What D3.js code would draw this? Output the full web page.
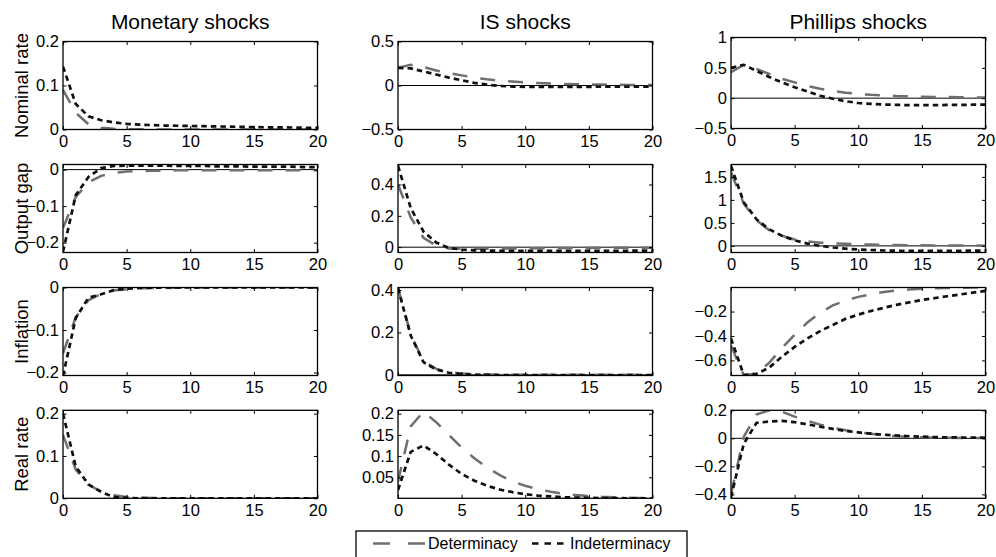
<!DOCTYPE html>
<html>
<head>
<meta charset="utf-8">
<script src="https://cdn.jsdelivr.net/npm/d3@7"></script>
<style>
    body { margin: 0; background: #fff; }
</style>
</head>
<body>
<div id="chart"></div>
<script>
const width = 996;
const height = 557;
const fontFamily = "'Liberation Sans', Arial, Helvetica, sans-serif";

const periods = d3.range(0, 21);
const shockTitles = ["Monetary shocks", "IS shocks", "Phillips shocks"];
const variableLabels = ["Nominal rate", "Output gap", "Inflation", "Real rate"];
const seriesNames = ["Determinacy", "Indeterminacy"];

// Nominal rate
const nomMonDet = [0.09, 0.038, 0.012, 0.004, 0.0015, 0.0008, 0.0005, 0.0003, 0.0002, 0.0001, 0, 0, 0, 0, 0, 0, 0, 0, 0, 0, 0];
const nomMonInd = [0.143, 0.058, 0.03, 0.021, 0.016, 0.013, 0.011, 0.01, 0.009, 0.0085, 0.008, 0.0075, 0.007, 0.0065, 0.006, 0.0055, 0.005, 0.005, 0.0045, 0.004, 0.004];
const nomIsDet = [0.2, 0.235, 0.21, 0.17, 0.14, 0.115, 0.09, 0.07, 0.055, 0.045, 0.035, 0.028, 0.022, 0.018, 0.015, 0.012, 0.01, 0.008, 0.007, 0.006, 0.005];
const nomIsInd = [0.2, 0.195, 0.16, 0.125, 0.09, 0.06, 0.03, 0.01, -0.005, -0.012, -0.015, -0.016, -0.016, -0.016, -0.015, -0.015, -0.014, -0.013, -0.013, -0.012, -0.012];
const nomPhDet = [0.43, 0.55, 0.48, 0.4, 0.32, 0.26, 0.2, 0.155, 0.12, 0.09, 0.07, 0.055, 0.045, 0.035, 0.03, 0.025, 0.02, 0.018, 0.015, 0.012, 0.01];
const nomPhInd = [0.5, 0.55, 0.45, 0.35, 0.26, 0.18, 0.11, 0.04, -0.01, -0.05, -0.08, -0.095, -0.105, -0.11, -0.115, -0.115, -0.115, -0.112, -0.11, -0.108, -0.105];

// Output gap
const gapMonDet = [-0.16, -0.075, -0.035, -0.017, -0.009, -0.005, -0.004, -0.003, -0.003, -0.002, -0.002, -0.002, -0.002, -0.002, -0.002, -0.002, -0.002, -0.002, -0.002, -0.002, -0.002];
const gapMonInd = [-0.225, -0.07, -0.02, 0.004, 0.01, 0.011, 0.011, 0.011, 0.011, 0.01, 0.01, 0.01, 0.009, 0.009, 0.009, 0.008, 0.008, 0.008, 0.008, 0.007, 0.007];
const gapIsDet = [0.4, 0.19, 0.06, 0.01, -0.008, -0.01, -0.01, -0.01, -0.009, -0.008, -0.008, -0.007, -0.006, -0.006, -0.005, -0.005, -0.004, -0.004, -0.004, -0.003, -0.003];
const gapIsInd = [0.52, 0.25, 0.1, 0.03, -0.005, -0.015, -0.02, -0.022, -0.023, -0.024, -0.024, -0.024, -0.024, -0.024, -0.024, -0.023, -0.023, -0.023, -0.023, -0.022, -0.022];
const gapPhDet = [1.6, 0.92, 0.56, 0.34, 0.22, 0.14, 0.1, 0.07, 0.055, 0.045, 0.035, 0.028, 0.022, 0.018, 0.015, 0.012, 0.01, 0.008, 0.007, 0.006, 0.005];
const gapPhInd = [1.74, 0.95, 0.58, 0.36, 0.22, 0.12, 0.05, 0.0, -0.035, -0.06, -0.08, -0.09, -0.1, -0.105, -0.108, -0.11, -0.11, -0.108, -0.106, -0.104, -0.1];

// Inflation
const infMonDet = [-0.155, -0.07, -0.03, -0.015, -0.007, -0.004, -0.002, -0.001, -0.001, -0.0005, 0, 0, 0, 0, 0, 0, 0, 0, 0, 0, 0];
const infMonInd = [-0.208, -0.072, -0.024, -0.016, -0.006, -0.003, -0.001, -0.0005, 0, 0, 0, 0, 0, 0, 0, 0, 0, 0, 0, 0, 0];
const infIsDet = [0.41, 0.19, 0.065, 0.028, 0.013, 0.006, 0.003, 0.002, 0.001, 0.001, 0, 0, 0, 0, 0, 0, 0, 0, 0, 0, 0];
const infIsInd = [0.41, 0.185, 0.06, 0.025, 0.01, 0.004, 0.001, 0, -0.001, -0.001, -0.001, -0.001, -0.001, -0.001, -0.001, -0.001, -0.001, -0.001, -0.001, -0.001, -0.001];
const infPhDet = [-0.48, -0.72, -0.71, -0.62, -0.5, -0.39, -0.29, -0.21, -0.15, -0.11, -0.08, -0.058, -0.04, -0.028, -0.02, -0.014, -0.01, -0.007, -0.005, -0.004, -0.003];
const infPhInd = [-0.42, -0.72, -0.71, -0.66, -0.57, -0.49, -0.42, -0.36, -0.31, -0.26, -0.225, -0.195, -0.17, -0.145, -0.125, -0.105, -0.09, -0.075, -0.06, -0.045, -0.03];

// Real rate
const realMonDet = [0.15, 0.068, 0.032, 0.016, 0.007, 0.003, 0.002, 0.001, 0, 0, 0, 0, 0, 0, 0, 0, 0, 0, 0, 0, 0];
const realMonInd = [0.2, 0.075, 0.033, 0.015, 0.003, 0.001, 0, 0, 0, 0, 0, 0, 0, 0, 0, 0, 0, 0, 0, 0, 0];
const realIsDet = [0.04, 0.17, 0.205, 0.18, 0.15, 0.12, 0.095, 0.073, 0.055, 0.04, 0.03, 0.022, 0.016, 0.011, 0.008, 0.006, 0.004, 0.003, 0.002, 0.0015, 0.001];
const realIsInd = [0.02, 0.11, 0.125, 0.105, 0.08, 0.058, 0.042, 0.03, 0.021, 0.015, 0.01, 0.007, 0.005, 0.003, 0.002, 0.0015, 0.001, 0.001, 0.0005, 0.0005, 0.0005];
const realPhDet = [-0.4, 0.01, 0.17, 0.2, 0.19, 0.155, 0.125, 0.098, 0.076, 0.058, 0.043, 0.032, 0.022, 0.015, 0.01, 0.007, 0.005, 0.004, 0.003, 0.002, 0.002];
const realPhInd = [-0.42, -0.04, 0.11, 0.12, 0.125, 0.115, 0.1, 0.083, 0.067, 0.053, 0.042, 0.033, 0.026, 0.02, 0.015, 0.012, 0.009, 0.007, 0.006, 0.005, 0.004];

// y limits and tick values, row by row
const yDomains = [
    [[0, 0.2], [-0.5, 0.5], [-0.5, 1]],
    [[-0.227, 0.014], [-0.034, 0.528], [-0.144, 1.77]],
    [[-0.207, 0], [-0.003, 0.412], [-0.724, -0.003]],
    [[0, 0.208], [0.0005, 0.208], [-0.428, 0.2]]
];
const yTickValues = [
    [[0, 0.1, 0.2], [-0.5, 0, 0.5], [-0.5, 0, 0.5, 1]],
    [[-0.2, -0.1, 0], [0, 0.2, 0.4], [0, 0.5, 1, 1.5]],
    [[-0.2, -0.1, 0], [0, 0.2, 0.4], [-0.6, -0.4, -0.2]],
    [[0, 0.1, 0.2], [0.05, 0.1, 0.15, 0.2], [-0.4, -0.2, 0, 0.2]]
];
const xTickValues = [0, 5, 10, 15, 20];

const seriesGrid = [
    [[nomMonDet, nomMonInd], [nomIsDet, nomIsInd], [nomPhDet, nomPhInd]],
    [[gapMonDet, gapMonInd], [gapIsDet, gapIsInd], [gapPhDet, gapPhInd]],
    [[infMonDet, infMonInd], [infIsDet, infIsInd], [infPhDet, infPhInd]],
    [[realMonDet, realMonInd], [realIsDet, realIsInd], [realPhDet, realPhInd]]
];

// layout
const colLefts = [63, 398, 731];
const rowTops = [41.5, 164.5, 287.5, 410.3];
const panelW = 254.5;
const panelH = 88;

const lineStyles = [
    { stroke: "#6f6f6f", width: 2.5, dash: "15,13" },
    { stroke: "#111", width: 2.7, dash: "5.5,4" }
];

let svg;

configureChart();
drawChart();
drawLegend();

function configureChart() {
    svg = d3.select("#chart").append("svg")
        .attr("width", width)
        .attr("height", height)
        .attr("viewBox", [0, 0, width, height])
        .style("font-family", fontFamily);

    svg.append("rect").attr("width", width).attr("height", height).attr("fill", "#fff");
}

function drawChart() {
    // column titles
    shockTitles.forEach((title, c) => {
        svg.append("text")
            .attr("x", colLefts[c] + panelW / 2)
            .attr("y", 29)
            .attr("text-anchor", "middle")
            .attr("font-size", 21)
            .text(title);
    });

    // row labels
    variableLabels.forEach((label, r) => {
        svg.append("text")
            .attr("transform", `translate(28,${rowTops[r] + panelH / 2}) rotate(-90)`)
            .attr("text-anchor", "middle")
            .attr("font-size", 18.5)
            .text(label);
    });

    for (let r = 0; r < 4; r++) {
        for (let c = 0; c < 3; c++) {
            drawPanel(r, c);
        }
    }
}

function panelBox(r, c) {
    // the Phillips nominal-rate axes sit a little higher and taller in the original
    if (r === 0 && c === 2) return { top: 37.5, h: 91 };
    return { top: rowTops[r], h: panelH };
}

function drawPanel(r, c) {
    const left = colLefts[c];
    const { top, h } = panelBox(r, c);
    const x = d3.scaleLinear().domain([0, 20]).range([left, left + panelW]);
    const y = d3.scaleLinear().domain(yDomains[r][c]).range([top + h, top]);
    const fmt = d3.format("");

    const g = svg.append("g").attr("class", `panel-${r}-${c}`);

    const clipId = `clip-${r}-${c}`;
    g.append("clipPath").attr("id", clipId)
        .append("rect")
        .attr("x", left).attr("y", top)
        .attr("width", panelW).attr("height", h);

    // zero line
    const [y0, y1] = yDomains[r][c];
    if (y0 < 0 && y1 > 0) {
        g.append("line")
            .attr("x1", x(0)).attr("x2", x(20))
            .attr("y1", y(0)).attr("y2", y(0))
            .attr("stroke", "#000")
            .attr("stroke-width", 1);
    }

    // series
    const lineGen = d3.line()
        .x((d, i) => x(periods[i]))
        .y(d => y(d));

    seriesGrid[r][c].forEach((values, s) => {
        const st = lineStyles[s];
        g.append("path")
            .datum(values)
            .attr("clip-path", `url(#${clipId})`)
            .attr("fill", "none")
            .attr("stroke", st.stroke)
            .attr("stroke-width", st.width)
            .attr("stroke-dasharray", st.dash)
            .attr("d", lineGen);
    });

    // axes, MATLAB style: ticks inside on all four sides
    const styleAxis = sel => {
        sel.select(".domain").remove();
        sel.selectAll(".tick line").attr("stroke", "#000").attr("stroke-width", 1);
        sel.attr("font-size", 16.5).attr("font-family", fontFamily);
        sel.selectAll(".tick text").attr("fill", "#000");
    };

    g.append("g")
        .attr("transform", `translate(0,${top + h})`)
        .call(d3.axisBottom(x).tickValues(xTickValues).tickSize(-3.5).tickPadding(6).tickFormat(fmt))
        .call(styleAxis);
    g.append("g")
        .attr("transform", `translate(0,${top})`)
        .call(d3.axisTop(x).tickValues(xTickValues).tickSize(-3.5).tickFormat(""))
        .call(styleAxis);
    g.append("g")
        .attr("transform", `translate(${left},0)`)
        .call(d3.axisLeft(y).tickValues(yTickValues[r][c]).tickSize(-3.5).tickPadding(4).tickFormat(fmt))
        .call(styleAxis);
    g.append("g")
        .attr("transform", `translate(${left + panelW},0)`)
        .call(d3.axisRight(y).tickValues(yTickValues[r][c]).tickSize(-3.5).tickFormat(""))
        .call(styleAxis);

    // box
    g.append("rect")
        .attr("x", left).attr("y", top)
        .attr("width", panelW).attr("height", h)
        .attr("fill", "none")
        .attr("stroke", "#000")
        .attr("stroke-width", 1.3);
}

function drawLegend() {
    const lg = svg.append("g").attr("class", "legend");
    lg.append("rect")
        .attr("x", 356).attr("y", 531)
        .attr("width", 331).attr("height", 40)
        .attr("fill", "#fff")
        .attr("stroke", "#000")
        .attr("stroke-width", 1.3);

    const items = [
        { x1: 373, x2: 425, tx: 428, dash: "17,18" },
        { x1: 532, x2: 564, tx: 570, dash: "6.5,6" }
    ];
    items.forEach((it, s) => {
        const st = lineStyles[s];
        lg.append("line")
            .attr("x1", it.x1).attr("x2", it.x2)
            .attr("y1", 543.5).attr("y2", 543.5)
            .attr("stroke", st.stroke)
            .attr("stroke-width", st.width)
            .attr("stroke-dasharray", it.dash);
        lg.append("text")
            .attr("x", it.tx)
            .attr("y", 549)
            .attr("font-size", 16)
            .text(seriesNames[s]);
    });
}
</script>
</body>
</html>
